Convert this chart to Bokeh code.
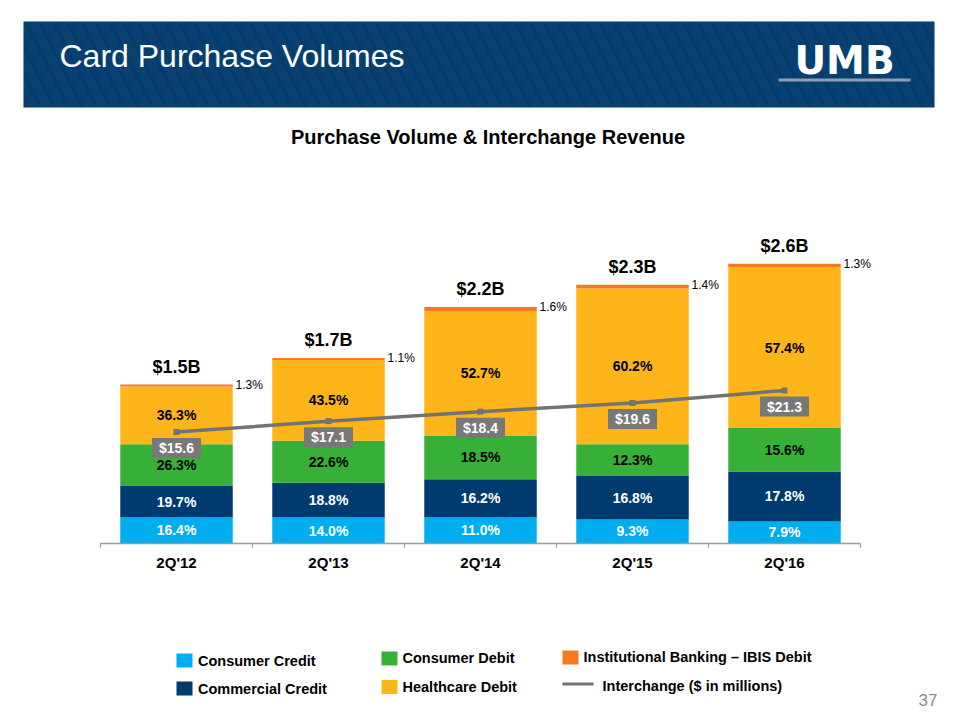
import numpy as np
from bokeh.plotting import figure
from bokeh.models import Range1d, ColumnDataSource
from bokeh.core.properties import value
from bokeh.embed import file_html
from bokeh.resources import INLINE

# ---------------- data ----------------
quarters = ["2Q'12", "2Q'13", "2Q'14", "2Q'15", "2Q'16"]
total_labels = ["$1.5B", "$1.7B", "$2.2B", "$2.3B", "$2.6B"]
total_volume = [1.50, 1.75, 2.23, 2.44, 2.64]          # $B, bar heights as drawn
consumer_credit = [16.4, 14.0, 11.0, 9.3, 7.9]          # % of volume
commercial_credit = [19.7, 18.8, 16.2, 16.8, 17.8]
consumer_debit = [26.3, 22.6, 18.5, 12.3, 15.6]
healthcare_debit = [36.3, 43.5, 52.7, 60.2, 57.4]
ibis_debit = [1.3, 1.1, 1.6, 1.4, 1.3]
interchange = [15.6, 17.1, 18.4, 19.6, 21.3]             # $ millions
series_names = ["Consumer Credit", "Commercial Credit", "Consumer Debit",
                "Healthcare Debit", "Institutional Banking \u2013 IBIS Debit"]

# ---------------- styles ----------------
FONT = value("Liberation Sans")
C_CC, C_COM, C_CD, C_HC, C_IB = "#00AEEF", "#003B6F", "#36B037", "#FDB51A", "#F47B20"
colors = [C_CC, C_COM, C_CD, C_HC, C_IB]
label_colors = ["white", "white", "black", "black"]
NAVY = "#023C6C"
GRAY_LINE = "#737373"
GRAY_BOX = "#787878"

W, H = 960, 720
BASE = 543.0        # pixel row of zero volume
PX_B = 106.0        # pixels per $B
BASE_M = 545.5      # pixel row of zero interchange
PX_M = 7.3          # pixels per $M
FIRST_X, PITCH = 176.0, 152.0

p = figure(width=W, height=H, x_range=Range1d(0, W), y_range=Range1d(H, 0),
           x_axis_type=None, y_axis_type=None, min_border=0,
           toolbar_location=None, output_backend="svg")
p.outline_line_color = None
p.background_fill_color = "white"
p.border_fill_color = "white"
p.grid.visible = False

# category slots: position = order of the quarter
p.extra_x_ranges = {"cat": Range1d(-FIRST_X / PITCH, (W - FIRST_X) / PITCH)}
p.extra_y_ranges = {
    "vol": Range1d(-(H - BASE) / PX_B, BASE / PX_B),
    "ich": Range1d(-(H - BASE_M) / PX_M, BASE_M / PX_M),
}
slot = list(range(len(quarters)))
kw_v = dict(x_range_name="cat", y_range_name="vol")
kw_i = dict(x_range_name="cat", y_range_name="ich")
MID = dict(text_baseline="middle")

# ---------------- header ----------------
p.quad(left=23, right=934, top=21, bottom=107, fill_color=NAVY, line_color=None,
       hatch_pattern="left_diagonal_line", hatch_color="#2b5d8f", hatch_alpha=0.13,
       hatch_weight=9, hatch_scale=28)
p.text(x=[59], y=[55], text=["Card Purchase Volumes"], text_font=FONT,
       text_font_size="32px", text_color="white", **MID)
p.text(x=[844], y=[60], text=["UMB"], text_font=value("DejaVu Sans"), text_font_style="bold",
       text_font_size="39px", text_color="white", text_align="center", **MID)
p.quad(left=778, right=910, top=78, bottom=81, fill_color="#8d9db2", line_color=None)

# subtitle
p.text(x=[487.5], y=[136.5], text=["Purchase Volume & Interchange Revenue"], text_font=FONT,
       text_font_style="bold", text_font_size="20px", text_color="black",
       text_align="center", **MID)

# ---------------- stacked bars ----------------
tot = np.array(total_volume)
pcts = np.array([consumer_credit, commercial_credit, consumer_debit,
                 healthcare_debit, ibis_debit])
vols = pcts / 100.0 * tot
keys = ["cc", "com", "cd", "hc", "ib"]
src = ColumnDataSource(dict(x=slot, **{k: vols[i] for i, k in enumerate(keys)}))
p.vbar_stack(keys, x="x", width=0.74, fill_color=colors, line_color=None, source=src, **kw_v)

# axis line and ticks (ticks on slot boundaries)
p.segment(x0=[slot[0] - 0.5], x1=[slot[-1] + 0.5], y0=[0.0], y1=[0.0],
          line_color="#9c9c9c", line_width=1.5, **kw_v)
bounds = [s - 0.5 for s in slot] + [slot[-1] + 0.5]
p.segment(x0=bounds, x1=bounds, y0=[0.0] * len(bounds), y1=[-4 / PX_B] * len(bounds),
          line_color="#9c9c9c", line_width=1.2, **kw_v)

# category labels
p.text(x=slot, y=[-19 / PX_B] * len(slot), text=quarters, text_font=FONT,
       text_font_style="bold", text_font_size="15px", text_color="black",
       text_align="center", **MID, **kw_v)

# segment labels
cum = np.cumsum(vols, axis=0)
lx, ly, lt, lc = [], [], [], []
for i in range(4):
    mids = cum[i] - vols[i] / 2
    for j in slot:
        lx.append(j)
        ly.append(mids[j])
        lt.append(f"{pcts[i][j]:.1f}%")
        lc.append(label_colors[i])
p.text(x="x", y="y", text="t", text_color="c",
       source=ColumnDataSource(dict(x=lx, y=ly, t=lt, c=lc)),
       text_font=FONT, text_font_style="bold", text_font_size="14px",
       text_align="center", **MID, **kw_v)

# IBIS labels to the right of bar tops
p.text(x=slot, y=list(tot), text=[f"{v:.1f}%" for v in ibis_debit], x_offset=59,
       text_font=FONT, text_font_size="12px", text_color="black", text_align="left",
       **MID, **kw_v)

# total labels
p.text(x=slot, y=list(tot + 18 / PX_B), text=total_labels, text_font=FONT,
       text_font_style="bold", text_font_size="18px", text_color="black",
       text_align="center", **MID, **kw_v)

# ---------------- interchange line ----------------
ich_src = ColumnDataSource(dict(x=slot, v=interchange,
                                by=[v - 16 / PX_M for v in interchange],
                                t=[f"${v:.1f}" for v in interchange]))
p.line(x="x", y="v", source=ich_src, line_color=GRAY_LINE, line_width=3.5, **kw_i)
p.scatter(x="x", y="v", source=ich_src, marker="square", size=6, fill_color=GRAY_LINE,
          line_color=None, **kw_i)
p.rect(x="x", y="by", width=49, height=20, width_units="screen", height_units="screen",
       source=ich_src, fill_color=GRAY_BOX, line_color=None, **kw_i)
p.text(x="x", y="by", text="t", source=ich_src, text_font=FONT, text_font_style="bold",
       text_font_size="14px", text_color="white", text_align="center", **MID, **kw_i)

# ---------------- legend ----------------
sq_left = [176, 176, 381, 381, 562]
sq_top = [653, 681, 651, 679.5, 650]
p.quad(left=sq_left, right=[l + 16 for l in sq_left], top=sq_top,
       bottom=[t + 14 for t in sq_top], fill_color=[C_CC, C_COM, C_CD, C_HC, C_IB],
       line_color=None)
leg_x = [197.5, 197.5, 402, 402, 583]
leg_y = [660.3, 688.3, 657.3, 686.3, 656.3]
p.text(x=leg_x, y=leg_y, text=series_names, text_font=FONT, text_font_style="bold",
       text_font_size="14.5px", text_color="black", **MID)
p.segment(x0=[562], x1=[593], y0=[683.5], y1=[683.5], line_color=GRAY_LINE, line_width=3)
p.text(x=[602], y=[685.3], text=["Interchange ($ in millions)"], text_font=FONT,
       text_font_style="bold", text_font_size="14.5px", text_color="black", **MID)

# page number
p.text(x=[937], y=[699], text=["37"], text_font=FONT, text_font_size="17px",
       text_color="#8a8a8a", text_align="right", **MID)

open("out.html", "w").write(file_html(p, INLINE))
